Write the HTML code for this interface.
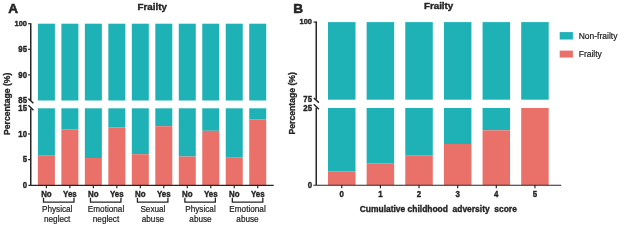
<!DOCTYPE html>
<html><head><meta charset="utf-8"><style>
html,body{margin:0;padding:0;background:#fff;}
svg{display:block;font-family:"Liberation Sans", sans-serif;filter:blur(0.25px);}
</style></head><body>
<svg width="620" height="227" viewBox="0 0 620 227" fill="#262626">
<rect x="37.9" y="23.7" width="17" height="76.8" fill="#1eb2b7"/>
<rect x="37.9" y="108.3" width="17" height="47.4" fill="#1eb2b7"/>
<rect x="37.9" y="155.7" width="17" height="29.3" fill="#ea716a"/>
<rect x="61.38" y="23.7" width="17" height="76.8" fill="#1eb2b7"/>
<rect x="61.38" y="108.3" width="17" height="21" fill="#1eb2b7"/>
<rect x="61.38" y="129.3" width="17" height="55.7" fill="#ea716a"/>
<rect x="84.86" y="23.7" width="17" height="76.8" fill="#1eb2b7"/>
<rect x="84.86" y="108.3" width="17" height="49.7" fill="#1eb2b7"/>
<rect x="84.86" y="158" width="17" height="27" fill="#ea716a"/>
<rect x="108.34" y="23.7" width="17" height="76.8" fill="#1eb2b7"/>
<rect x="108.34" y="108.3" width="17" height="19" fill="#1eb2b7"/>
<rect x="108.34" y="127.3" width="17" height="57.7" fill="#ea716a"/>
<rect x="131.82" y="23.7" width="17" height="76.8" fill="#1eb2b7"/>
<rect x="131.82" y="108.3" width="17" height="45.9" fill="#1eb2b7"/>
<rect x="131.82" y="154.2" width="17" height="30.8" fill="#ea716a"/>
<rect x="155.3" y="23.7" width="17" height="76.8" fill="#1eb2b7"/>
<rect x="155.3" y="108.3" width="17" height="17.9" fill="#1eb2b7"/>
<rect x="155.3" y="126.2" width="17" height="58.8" fill="#ea716a"/>
<rect x="178.78" y="23.7" width="17" height="76.8" fill="#1eb2b7"/>
<rect x="178.78" y="108.3" width="17" height="48.2" fill="#1eb2b7"/>
<rect x="178.78" y="156.5" width="17" height="28.5" fill="#ea716a"/>
<rect x="202.26" y="23.7" width="17" height="76.8" fill="#1eb2b7"/>
<rect x="202.26" y="108.3" width="17" height="22.5" fill="#1eb2b7"/>
<rect x="202.26" y="130.8" width="17" height="54.2" fill="#ea716a"/>
<rect x="225.74" y="23.7" width="17" height="76.8" fill="#1eb2b7"/>
<rect x="225.74" y="108.3" width="17" height="48.9" fill="#1eb2b7"/>
<rect x="225.74" y="157.2" width="17" height="27.8" fill="#ea716a"/>
<rect x="249.22" y="23.7" width="17" height="76.8" fill="#1eb2b7"/>
<rect x="249.22" y="108.3" width="17" height="11" fill="#1eb2b7"/>
<rect x="249.22" y="119.3" width="17" height="65.7" fill="#ea716a"/>
<line x1="30.75" y1="23.2" x2="30.75" y2="100.3" stroke="#262626" stroke-width="1.5"/>
<line x1="28.4" y1="98.6" x2="33.4" y2="103.2" stroke="#262626" stroke-width="1.5"/>
<line x1="28.4" y1="105.2" x2="33.4" y2="110.2" stroke="#262626" stroke-width="1.5"/>
<line x1="30.75" y1="108.6" x2="30.75" y2="185" stroke="#262626" stroke-width="1.5"/>
<line x1="28.4" y1="185.45" x2="273.7" y2="185.45" stroke="#262626" stroke-width="1.2"/>
<line x1="28.1" y1="23.7" x2="30.75" y2="23.7" stroke="#262626" stroke-width="1.2"/>
<text transform="translate(27,25.5) scale(1,0.95)" font-size="7.5" font-weight="bold" text-anchor="end" stroke="#222" stroke-width="0.35" >100</text>
<line x1="28.1" y1="49.3" x2="30.75" y2="49.3" stroke="#262626" stroke-width="1.2"/>
<text transform="translate(27,51.9) scale(1,1.1)" font-size="7.8" font-weight="bold" text-anchor="end" stroke="#222" stroke-width="0.35" >95</text>
<line x1="28.1" y1="74.9" x2="30.75" y2="74.9" stroke="#262626" stroke-width="1.2"/>
<text transform="translate(27,77.5) scale(1,1.1)" font-size="7.8" font-weight="bold" text-anchor="end" stroke="#222" stroke-width="0.35" >90</text>
<text transform="translate(27,102.6) scale(1,1.1)" font-size="7.8" font-weight="bold" text-anchor="end" stroke="#222" stroke-width="0.35" >85</text>
<text transform="translate(27,110.9) scale(1,1.1)" font-size="7.8" font-weight="bold" text-anchor="end" stroke="#222" stroke-width="0.35" >15</text>
<line x1="28.1" y1="133.97" x2="30.75" y2="133.97" stroke="#262626" stroke-width="1.2"/>
<text transform="translate(27,136.57) scale(1,1.1)" font-size="7.8" font-weight="bold" text-anchor="end" stroke="#222" stroke-width="0.35" >10</text>
<line x1="28.1" y1="159.63" x2="30.75" y2="159.63" stroke="#262626" stroke-width="1.2"/>
<text transform="translate(27,162.23) scale(1,1.1)" font-size="7.8" font-weight="bold" text-anchor="end" stroke="#222" stroke-width="0.35" >5</text>
<text transform="translate(27,188.1) scale(1,1.1)" font-size="7.8" font-weight="bold" text-anchor="end" stroke="#222" stroke-width="0.35" >0</text>
<text transform="translate(9.7,103.8) rotate(-90)" font-size="8.65" font-weight="bold" text-anchor="middle" stroke="#222" stroke-width="0.3">Percentage (%)</text>
<line x1="46.4" y1="185" x2="46.4" y2="188.3" stroke="#262626" stroke-width="1.2"/>
<text transform="translate(46.4,196.6) scale(1,1.1)" font-size="7.9" font-weight="bold" text-anchor="middle" stroke="#222" stroke-width="0.35" >No</text>
<line x1="69.88" y1="185" x2="69.88" y2="188.3" stroke="#262626" stroke-width="1.2"/>
<text transform="translate(69.88,196.6) scale(1,1.1)" font-size="7.9" font-weight="bold" text-anchor="middle" stroke="#222" stroke-width="0.35" >Yes</text>
<line x1="93.36" y1="185" x2="93.36" y2="188.3" stroke="#262626" stroke-width="1.2"/>
<text transform="translate(93.36,196.6) scale(1,1.1)" font-size="7.9" font-weight="bold" text-anchor="middle" stroke="#222" stroke-width="0.35" >No</text>
<line x1="116.84" y1="185" x2="116.84" y2="188.3" stroke="#262626" stroke-width="1.2"/>
<text transform="translate(116.84,196.6) scale(1,1.1)" font-size="7.9" font-weight="bold" text-anchor="middle" stroke="#222" stroke-width="0.35" >Yes</text>
<line x1="140.32" y1="185" x2="140.32" y2="188.3" stroke="#262626" stroke-width="1.2"/>
<text transform="translate(140.32,196.6) scale(1,1.1)" font-size="7.9" font-weight="bold" text-anchor="middle" stroke="#222" stroke-width="0.35" >No</text>
<line x1="163.8" y1="185" x2="163.8" y2="188.3" stroke="#262626" stroke-width="1.2"/>
<text transform="translate(163.8,196.6) scale(1,1.1)" font-size="7.9" font-weight="bold" text-anchor="middle" stroke="#222" stroke-width="0.35" >Yes</text>
<line x1="187.28" y1="185" x2="187.28" y2="188.3" stroke="#262626" stroke-width="1.2"/>
<text transform="translate(187.28,196.6) scale(1,1.1)" font-size="7.9" font-weight="bold" text-anchor="middle" stroke="#222" stroke-width="0.35" >No</text>
<line x1="210.76" y1="185" x2="210.76" y2="188.3" stroke="#262626" stroke-width="1.2"/>
<text transform="translate(210.76,196.6) scale(1,1.1)" font-size="7.9" font-weight="bold" text-anchor="middle" stroke="#222" stroke-width="0.35" >Yes</text>
<line x1="234.24" y1="185" x2="234.24" y2="188.3" stroke="#262626" stroke-width="1.2"/>
<text transform="translate(234.24,196.6) scale(1,1.1)" font-size="7.9" font-weight="bold" text-anchor="middle" stroke="#222" stroke-width="0.35" >No</text>
<line x1="257.72" y1="185" x2="257.72" y2="188.3" stroke="#262626" stroke-width="1.2"/>
<text transform="translate(257.72,196.6) scale(1,1.1)" font-size="7.9" font-weight="bold" text-anchor="middle" stroke="#222" stroke-width="0.35" >Yes</text>
<path d="M43.5 197.8 V202.2 H73.98 V197.8" fill="none" stroke="#262626" stroke-width="1.3"/>
<text transform="translate(57.2,211.9) scale(1,1)" font-size="8.2" font-weight="normal" text-anchor="middle" stroke="#222" stroke-width="0.2" fill="#222">Physical</text>
<text transform="translate(57.2,221.7) scale(1,1)" font-size="8.2" font-weight="normal" text-anchor="middle" stroke="#222" stroke-width="0.2" fill="#222">neglect</text>
<path d="M90.46 197.8 V202.2 H120.94 V197.8" fill="none" stroke="#262626" stroke-width="1.3"/>
<text transform="translate(106,211.9) scale(1,1)" font-size="8.2" font-weight="normal" text-anchor="middle" stroke="#222" stroke-width="0.2" fill="#222">Emotional</text>
<text transform="translate(106,221.7) scale(1,1)" font-size="8.2" font-weight="normal" text-anchor="middle" stroke="#222" stroke-width="0.2" fill="#222">neglect</text>
<path d="M137.42 197.8 V202.2 H167.9 V197.8" fill="none" stroke="#262626" stroke-width="1.3"/>
<text transform="translate(152.9,211.9) scale(1,1)" font-size="8.2" font-weight="normal" text-anchor="middle" stroke="#222" stroke-width="0.2" fill="#222">Sexual</text>
<text transform="translate(152.9,221.7) scale(1,1)" font-size="8.2" font-weight="normal" text-anchor="middle" stroke="#222" stroke-width="0.2" fill="#222">abuse</text>
<path d="M184.88 197.8 V202.2 H215.36 V197.8" fill="none" stroke="#262626" stroke-width="1.3"/>
<text transform="translate(200.5,211.9) scale(1,1)" font-size="8.2" font-weight="normal" text-anchor="middle" stroke="#222" stroke-width="0.2" fill="#222">Physical</text>
<text transform="translate(200.5,221.7) scale(1,1)" font-size="8.2" font-weight="normal" text-anchor="middle" stroke="#222" stroke-width="0.2" fill="#222">abuse</text>
<path d="M232.34 197.8 V202.2 H262.82 V197.8" fill="none" stroke="#262626" stroke-width="1.3"/>
<text transform="translate(247.5,211.9) scale(1,1)" font-size="8.2" font-weight="normal" text-anchor="middle" stroke="#222" stroke-width="0.2" fill="#222">Emotional</text>
<text transform="translate(247.5,221.7) scale(1,1)" font-size="8.2" font-weight="normal" text-anchor="middle" stroke="#222" stroke-width="0.2" fill="#222">abuse</text>
<text transform="translate(152.2,10.1) scale(1,1)" font-size="9.8" font-weight="bold" text-anchor="middle" stroke="#222" stroke-width="0.4" >Frailty</text>
<text transform="translate(13.1,13.3) scale(1,1)" font-size="13.6" font-weight="bold" text-anchor="middle" stroke="#222" stroke-width="0.55" >A</text>
<rect x="328" y="22.1" width="27.5" height="77.6" fill="#1eb2b7"/>
<rect x="328" y="108" width="27.5" height="63.6" fill="#1eb2b7"/>
<rect x="328" y="171.6" width="27.5" height="13.4" fill="#ea716a"/>
<rect x="366.64" y="22.1" width="27.5" height="77.6" fill="#1eb2b7"/>
<rect x="366.64" y="108" width="27.5" height="55.6" fill="#1eb2b7"/>
<rect x="366.64" y="163.6" width="27.5" height="21.4" fill="#ea716a"/>
<rect x="405.28" y="22.1" width="27.5" height="77.6" fill="#1eb2b7"/>
<rect x="405.28" y="108" width="27.5" height="47.7" fill="#1eb2b7"/>
<rect x="405.28" y="155.7" width="27.5" height="29.3" fill="#ea716a"/>
<rect x="443.92" y="22.1" width="27.5" height="77.6" fill="#1eb2b7"/>
<rect x="443.92" y="108" width="27.5" height="36" fill="#1eb2b7"/>
<rect x="443.92" y="144" width="27.5" height="41" fill="#ea716a"/>
<rect x="482.56" y="22.1" width="27.5" height="77.6" fill="#1eb2b7"/>
<rect x="482.56" y="108" width="27.5" height="22.3" fill="#1eb2b7"/>
<rect x="482.56" y="130.3" width="27.5" height="54.7" fill="#ea716a"/>
<rect x="521.2" y="22.1" width="27.5" height="77.6" fill="#1eb2b7"/>
<rect x="521.2" y="108" width="27.5" height="77" fill="#ea716a"/>
<line x1="316.25" y1="21.6" x2="316.25" y2="99.6" stroke="#262626" stroke-width="1.5"/>
<line x1="313.8" y1="98" x2="318.9" y2="102.6" stroke="#262626" stroke-width="1.5"/>
<line x1="313.8" y1="104.3" x2="318.9" y2="109.2" stroke="#262626" stroke-width="1.5"/>
<line x1="316.25" y1="107.8" x2="316.25" y2="185" stroke="#262626" stroke-width="1.5"/>
<line x1="313.3" y1="185.25" x2="561.2" y2="185.25" stroke="#262626" stroke-width="1.2"/>
<line x1="313.6" y1="22.1" x2="316.25" y2="22.1" stroke="#262626" stroke-width="1.2"/>
<text transform="translate(312,23.8) scale(1,0.95)" font-size="7.5" font-weight="bold" text-anchor="end" stroke="#222" stroke-width="0.35" >100</text>
<text transform="translate(312,102.3) scale(1,1.1)" font-size="7.8" font-weight="bold" text-anchor="end" stroke="#222" stroke-width="0.35" >75</text>
<text transform="translate(312,110.6) scale(1,1.1)" font-size="7.8" font-weight="bold" text-anchor="end" stroke="#222" stroke-width="0.35" >25</text>
<text transform="translate(312,187.9) scale(1,1.1)" font-size="7.8" font-weight="bold" text-anchor="end" stroke="#222" stroke-width="0.35" >0</text>
<text transform="translate(295.2,103.3) rotate(-90)" font-size="8.65" font-weight="bold" text-anchor="middle" stroke="#222" stroke-width="0.3">Percentage (%)</text>
<line x1="341.75" y1="185" x2="341.75" y2="188.3" stroke="#262626" stroke-width="1.2"/>
<text transform="translate(341.75,197) scale(1,1.1)" font-size="7.9" font-weight="bold" text-anchor="middle" stroke="#222" stroke-width="0.35" >0</text>
<line x1="380.39" y1="185" x2="380.39" y2="188.3" stroke="#262626" stroke-width="1.2"/>
<text transform="translate(380.39,197) scale(1,1.1)" font-size="7.9" font-weight="bold" text-anchor="middle" stroke="#222" stroke-width="0.35" >1</text>
<line x1="419.03" y1="185" x2="419.03" y2="188.3" stroke="#262626" stroke-width="1.2"/>
<text transform="translate(419.03,197) scale(1,1.1)" font-size="7.9" font-weight="bold" text-anchor="middle" stroke="#222" stroke-width="0.35" >2</text>
<line x1="457.67" y1="185" x2="457.67" y2="188.3" stroke="#262626" stroke-width="1.2"/>
<text transform="translate(457.67,197) scale(1,1.1)" font-size="7.9" font-weight="bold" text-anchor="middle" stroke="#222" stroke-width="0.35" >3</text>
<line x1="496.31" y1="185" x2="496.31" y2="188.3" stroke="#262626" stroke-width="1.2"/>
<text transform="translate(496.31,197) scale(1,1.1)" font-size="7.9" font-weight="bold" text-anchor="middle" stroke="#222" stroke-width="0.35" >4</text>
<line x1="534.95" y1="185" x2="534.95" y2="188.3" stroke="#262626" stroke-width="1.2"/>
<text transform="translate(534.95,197) scale(1,1.1)" font-size="7.9" font-weight="bold" text-anchor="middle" stroke="#222" stroke-width="0.35" >5</text>
<text transform="translate(438.3,212.2) scale(1,1)" font-size="8.45" font-weight="bold" text-anchor="middle" stroke="#222" stroke-width="0.35" >Cumulative childhood&#160; adversity&#160; score</text>
<text transform="translate(438.6,8.6) scale(1,1)" font-size="9.8" font-weight="bold" text-anchor="middle" stroke="#222" stroke-width="0.4" >Frailty</text>
<text transform="translate(298.1,13.1) scale(1,1)" font-size="13.6" font-weight="bold" text-anchor="middle" stroke="#222" stroke-width="0.55" >B</text>
<rect x="559.7" y="32.1" width="13.2" height="7.4" fill="#1eb2b7"/>
<rect x="559.7" y="50.6" width="13.2" height="7" fill="#ea716a"/>
<text transform="translate(578.7,38.8) scale(1,1)" font-size="8.5" font-weight="normal" text-anchor="start" stroke="#222" stroke-width="0.2" fill="#222">Non-frailty</text>
<text transform="translate(578.7,57.3) scale(1,1)" font-size="8.5" font-weight="normal" text-anchor="start" stroke="#222" stroke-width="0.2" fill="#222">Frailty</text>
</svg>
</body></html>
